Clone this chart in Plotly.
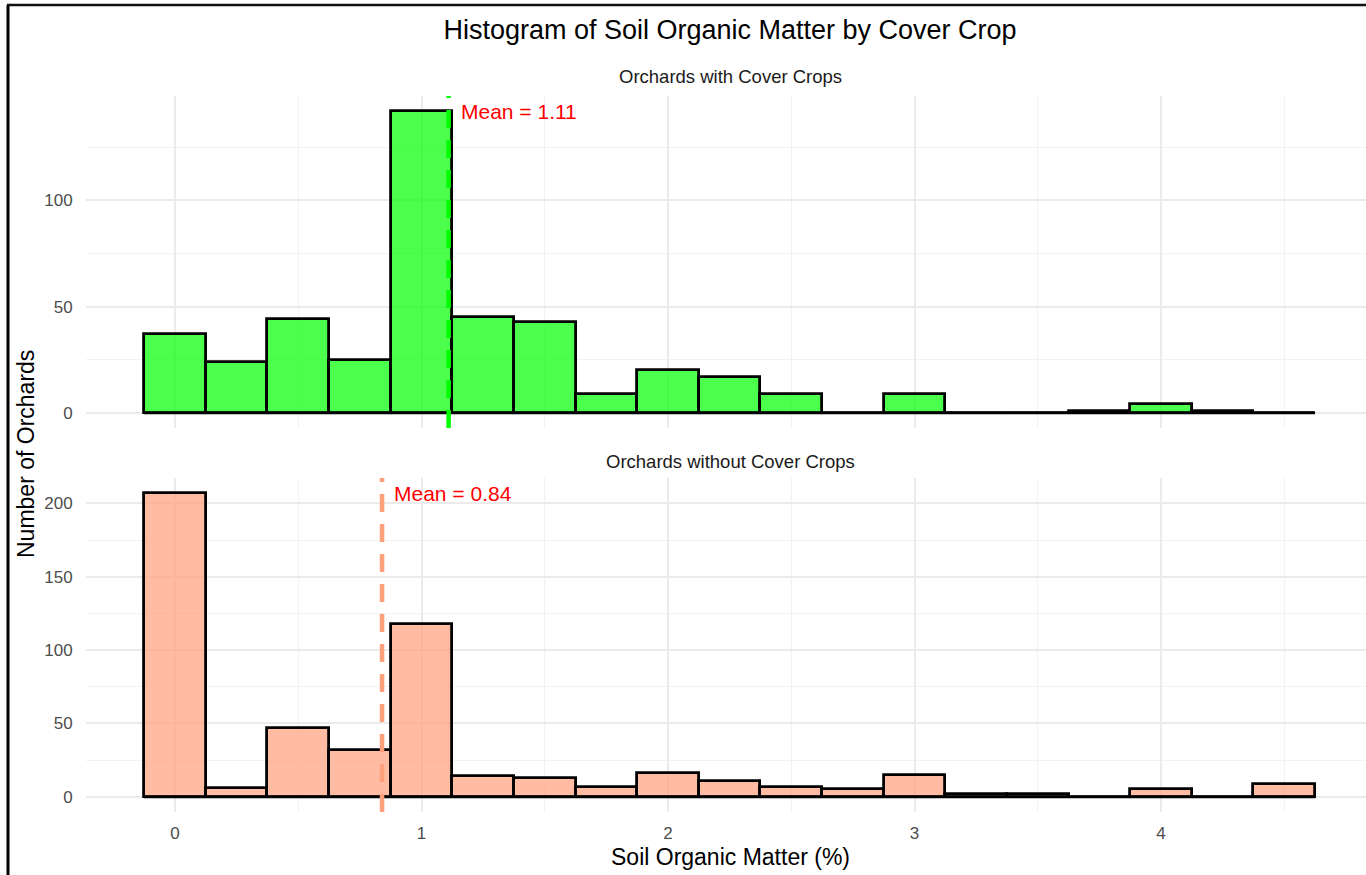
import plotly.graph_objects as go

# ---------------- data ----------------
bin_centers = [0.0, 0.25, 0.5, 0.75, 1.0, 1.25, 1.5, 1.75, 2.0, 2.25,
               2.5, 2.75, 3.0, 3.25, 3.5, 3.75, 4.0, 4.25, 4.5]
bin_width = 0.25
counts_with = [37, 24, 44, 25, 142, 45, 43, 9, 20, 17, 9, 0, 9, 0, 0, 1, 4, 1, 0]
counts_without = [207, 6, 47, 32, 118, 14, 13, 7, 16, 11, 7, 5, 15, 2, 2, 0, 5, 0, 9]
mean_with = 1.11
mean_without = 0.84
panel_titles = ["Orchards with Cover Crops", "Orchards without Cover Crops"]
x_ticks = [0, 1, 2, 3, 4]

# ---------------- layout geometry (pixels) ----------------
W, H = 1366, 875
ml, mr, mt, mb = 86, 0, 96, 63
pw, ph = W - ml - mr, H - mt - mb
top_px = (96, 428)
bot_px = (478, 812)


def py(p):  # pixel y -> paper y
    return (H - mb - p) / ph


def px(p):  # pixel x -> paper x
    return (p - ml) / pw


FONT = "Liberation Sans, Arial, sans-serif"
fill_with = "rgba(0,255,0,0.7)"
fill_without = "rgba(255,160,122,0.7)"
line_with = "#00FF00"
line_without = "#FFA07A"

edges_lo = bin_centers[0] - bin_width / 2
edges_hi = bin_centers[-1] + bin_width / 2

fig = go.Figure()

for counts, fill, xa, ya in [(counts_with, fill_with, "x", "y"),
                             (counts_without, fill_without, "x2", "y2")]:
    # baseline outline for empty bins (ggplot draws zero-height rects)
    fig.add_trace(go.Scatter(x=[edges_lo, edges_hi], y=[0, 0], mode="lines",
                             line=dict(color="black", width=2.8),
                             xaxis=xa, yaxis=ya, hoverinfo="skip", showlegend=False))
    fig.add_trace(go.Bar(x=bin_centers, y=counts, width=bin_width,
                         marker=dict(color=fill, line=dict(color="black", width=2.8)),
                         xaxis=xa, yaxis=ya, showlegend=False))

grid_major = "#EBEBEB"
grid_minor = "#F2F2F2"
x_range = [(ml - 175) / 246.5, (W - mr - 175) / 246.5]
TICKFONT = dict(family=FONT, size=17, color="#4D4D4D")

common_x = dict(range=x_range, tickvals=x_ticks, showgrid=True, gridcolor=grid_major,
                gridwidth=1.8, zeroline=False, showline=False,
                minor=dict(dtick=0.5, tick0=0, showgrid=True, gridcolor=grid_minor, gridwidth=1),
                tickfont=TICKFONT,
                ticks="outside", ticklen=6, tickcolor="rgba(0,0,0,0)")


def yaxis_for(counts, dom):
    m = max(counts)
    return dict(domain=dom, range=[-0.05 * m, 1.05 * m], dtick=50, tick0=0,
                showgrid=True, gridcolor=grid_major, gridwidth=1.8, zeroline=False,
                minor=dict(dtick=25, tick0=0, showgrid=True, gridcolor=grid_minor, gridwidth=1),
                tickfont=TICKFONT,
                ticks="outside", ticklen=9, tickcolor="rgba(0,0,0,0)")


fig.update_layout(
    width=W, height=H,
    margin=dict(l=ml, r=mr, t=mt, b=mb),
    paper_bgcolor="white", plot_bgcolor="white",
    bargap=0,
    xaxis=dict(anchor="y", showticklabels=False, **common_x),
    xaxis2=dict(anchor="y2", matches="x", **common_x),
    yaxis=yaxis_for(counts_with, [py(top_px[1]), 1.0]),
    yaxis2=yaxis_for(counts_without, [0.0, py(bot_px[0])]),
    title=dict(text="Histogram of Soil Organic Matter by Cover Crop",
               x=px(730), xref="paper", xanchor="center",
               y=1 - 30 / H, yref="container", yanchor="middle",
               font=dict(family=FONT, size=27, color="black")),
    showlegend=False,
)

# mean lines
for mean, col, xa, ya in [(mean_with, line_with, "x", "y"), (mean_without, line_without, "x2", "y2")]:
    fig.add_shape(type="line", xref=xa, yref=ya + " domain", x0=mean, x1=mean, y0=0, y1=1,
                  line=dict(color=col, width=4.5, dash="18px,12px"), layer="above")

# mean labels
for mean, counts, xa, ya in [(mean_with, counts_with, "x", "y"), (mean_without, counts_without, "x2", "y2")]:
    fig.add_annotation(x=mean, y=max(counts), xref=xa, yref=ya, text=f"Mean = {mean:.2f}",
                       showarrow=False, xanchor="left", yanchor="middle", xshift=10,
                       font=dict(family=FONT, size=21, color="#FF0000"))

# strip titles
fig.add_annotation(x=px(730), y=py(77), xref="paper", yref="paper", text=panel_titles[0],
                   showarrow=False, xanchor="center", yanchor="middle",
                   font=dict(family=FONT, size=18.5, color="#1A1A1A"))
fig.add_annotation(x=px(730), y=py(461), xref="paper", yref="paper", text=panel_titles[1],
                   showarrow=False, xanchor="center", yanchor="middle",
                   font=dict(family=FONT, size=18.5, color="#1A1A1A"))

# axis titles
fig.add_annotation(x=px(730), y=py(857), xref="paper", yref="paper", text="Soil Organic Matter (%)",
                   showarrow=False, xanchor="center", yanchor="middle",
                   font=dict(family=FONT, size=23, color="black"))
fig.add_annotation(x=px(26), y=py(454), xref="paper", yref="paper", text="Number of Orchards",
                   showarrow=False, xanchor="center", yanchor="middle", textangle=-90,
                   font=dict(family=FONT, size=23, color="black"))

# outer frame of the screenshot
fig.add_shape(type="line", xref="paper", yref="paper", x0=px(8), x1=px(8), y0=py(H + 5), y1=py(5),
              line=dict(color="black", width=3))
fig.add_shape(type="line", xref="paper", yref="paper", x0=px(7), x1=px(W + 5), y0=py(5), y1=py(5),
              line=dict(color="#111111", width=2.5))

fig.write_html("out.html", config=dict(displayModeBar=False))
